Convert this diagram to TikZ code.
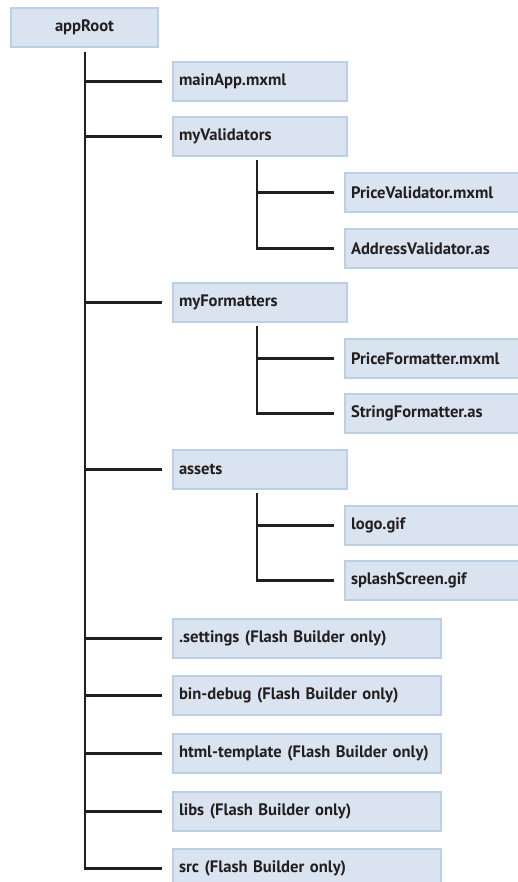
\documentclass[tikz,border=0pt]{standalone}
\usepackage{fontspec}
\setmainfont{PT Sans}
\usepackage{tikz}

\definecolor{boxfill}{HTML}{D9E4F0}
\definecolor{boxline}{HTML}{BBCFE5}
\definecolor{ink}{HTML}{231F20}

\tikzset{
	folder/.style={draw=boxline, line width=2pt, fill=boxfill, anchor=north west,
		minimum height=39pt, inner xsep=6pt, align=left, text=ink,
		font=\fontsize{16.6}{19}\selectfont\bfseries},
	short/.style={folder, text width=162pt},
	long/.style={folder, text width=256pt},
	branch/.style={draw=ink, line width=2.5pt, shorten >=10pt}
}

\begin{document}
\begin{tikzpicture}[x=1pt, y=-1pt]
	\useasboundingbox (0,0) rectangle (518,882);

	\node[folder, text width=135pt, align=center] (root) at (10,7) {appRoot};

	\node[short] (main) at (172,61) {mainApp.mxml};
	\node[short] (valid) at (172,116) {myValidators};
	\node[short] (pval) at (344,172) {PriceValidator.mxml};
	\node[short] (aval) at (344,228) {AddressValidator.as};
	\node[short] (form) at (172,282) {myFormatters};
	\node[short] (pform) at (344,338) {PriceFormatter.mxml};
	\node[short] (sform) at (344,393) {StringFormatter.as};
	\node[short] (assets) at (172,449) {assets};
	\node[short] (logo) at (344,505) {logo.gif};
	\node[short] (splash) at (344,560) {splashScreen.gif};
	\node[long] (settings) at (172,618) {.settings (Flash Builder only)};
	\node[long] (bindebug) at (172,675) {bin-debug (Flash Builder only)};
	\node[long] (html) at (172,733) {html-template (Flash Builder only)};
	\node[long] (libs) at (172,791) {libs (Flash Builder only)};
	\node[long] (src) at (172,848) {src (Flash Builder only)};

	% trunks
	\coordinate (t0) at (85,52);
	\coordinate (tv) at (257,160);
	\coordinate (tf) at (257,326);
	\coordinate (ta) at (257,493);

	\path[branch] (t0) |- (src.west);
	\path[branch] (tv) |- (aval.west);
	\path[branch] (tf) |- (sform.west);
	\path[branch] (ta) |- (splash.west);

	% branches
	\path[branch] (main.west -| t0) edge (main.west);
	\path[branch] (valid.west -| t0) edge (valid.west);
	\path[branch] (form.west -| t0) edge (form.west);
	\path[branch] (assets.west -| t0) edge (assets.west);
	\path[branch] (settings.west -| t0) edge (settings.west);
	\path[branch] (bindebug.west -| t0) edge (bindebug.west);
	\path[branch] (html.west -| t0) edge (html.west);
	\path[branch] (libs.west -| t0) edge (libs.west);
	\path[branch] (pval.west -| tv) edge (pval.west);
	\path[branch] (pform.west -| tf) edge (pform.west);
	\path[branch] (logo.west -| ta) edge (logo.west);
\end{tikzpicture}
\end{document}
